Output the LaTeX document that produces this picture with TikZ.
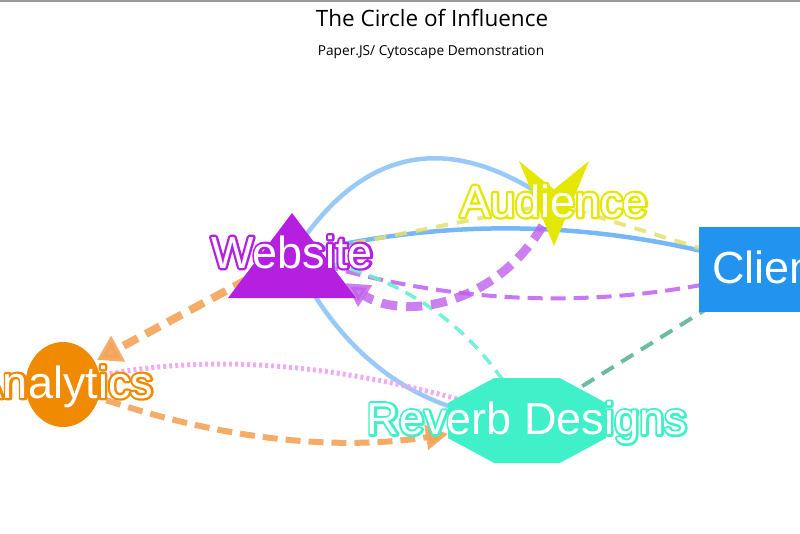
\documentclass[tikz,border=0pt]{standalone}
\usepackage{fontspec}
\setmainfont{Liberation Sans}
\newfontfamily\titlefont{Open Sans}
\usetikzlibrary{arrows.meta,calc,shapes.geometric}

\newcommand\outlinedtext[2]{\leavevmode\rlap{\special{pdf:literal direct 2 Tr 4.6 w 1 j}\textcolor{#1}{#2}\special{pdf:literal direct 0 Tr 1 w}}\textcolor{white}{#2}}

\definecolor{cWeb}{HTML}{B41FE0}
\definecolor{cAud}{HTML}{E4E800}
\definecolor{cCli}{HTML}{2393F0}
\definecolor{cAna}{HTML}{F08A00}
\definecolor{cRev}{HTML}{40F0C8}
\definecolor{eBlueL}{HTML}{8EC4F8}
\definecolor{eBlue}{HTML}{6AB0F4}
\definecolor{eYel}{HTML}{E2E270}
\definecolor{ePur}{HTML}{C060F0}
\definecolor{ePurT}{HTML}{C060EA}
\definecolor{eTeal}{HTML}{66F0D2}
\definecolor{eTealD}{HTML}{5EB49A}
\definecolor{eOra}{HTML}{F4A458}
\definecolor{ePink}{HTML}{F0A4F0}

\begin{document}
\begin{tikzpicture}[x=1pt,y=-1pt,
  lbl/.style={anchor=base, inner sep=0pt, font=\fontsize{45}{50}\selectfont, text=white},
  eSolid/.style={line width=4.5pt, opacity=0.9},
  eYelDash/.style={eYel, line width=4pt, dash pattern=on 12pt off 9pt, opacity=0.85},
  ePurDash/.style={ePur, line width=4pt, dash pattern=on 15pt off 8pt, opacity=0.85},
  ePurThick/.style={ePurT, line width=9pt, dash pattern=on 16pt off 9pt, opacity=0.8,
     -{Triangle[length=24pt,width=24pt]}},
  eTealDash/.style={eTeal, line width=3.5pt, dash pattern=on 12pt off 8pt, opacity=0.9},
  eTealDDash/.style={eTealD, line width=4pt, dash pattern=on 14pt off 9pt, opacity=0.9},
  eOraThick/.style={eOra, line width=8pt, dash pattern=on 16pt off 9pt, opacity=0.9,
     -{Triangle[length=24pt,width=28pt]}},
  eOraMid/.style={eOra, line width=6pt, dash pattern=on 15pt off 8pt, opacity=0.9,
     -{Triangle[length=22pt,width=24pt]}},
  ePinkDot/.style={ePink, line width=5pt, dash pattern=on 3pt off 3pt, opacity=0.9},
]
\path[use as bounding box] (0,0) rectangle (800,533);
\clip (0,0) rectangle (800,533);
\fill[white] (0,0) rectangle (800,533);
\fill[black!40] (0,0) rectangle (800,1.6);

% title
\node[anchor=base, inner sep=0pt, font=\titlefont\fontsize{22.5}{26}\selectfont] (title) at (432,26) {The Circle of Influence};
\node[anchor=base, inner sep=0pt, font=\titlefont\fontsize{13.7}{16}\selectfont] (subtitle) at (431,55) {Paper.JS/ Cytoscape Demonstration};

% node centres
\coordinate (web) at (292,255.5);
\coordinate (aud) at (554,203.5);
\coordinate (cli) at (770,269.5);
\coordinate (ana) at (63,384.5);
\coordinate (rev) at (527,420.5);

% control points / arrow tips
\coordinate (qWA) at (396,92);
\coordinate (qWR) at (370.5,414);
\coordinate (qWC) at (530,195);
\coordinate (qCW) at (531,333.5);
\coordinate (qWRt) at (455,280);
\coordinate (qAR) at (260,330);
\coordinate (webTip) at (345,283);
\coordinate (anaTip) at (97,360);
\coordinate (revTip) at (448,434);

% edges
\draw[eBlueL, eSolid] (web) .. controls ($(web)!0.667!(qWA)$) and ($(aud)!0.667!(qWA)$) .. (aud);
\draw[eBlueL, eSolid] (web) .. controls ($(web)!0.667!(qWR)$) and ($(rev)!0.667!(qWR)$) .. (rev);
\draw[eBlue, eSolid] (web) .. controls ($(web)!0.667!(qWC)$) and ($(cli)!0.667!(qWC)$) .. (cli);
\draw[eYelDash] (web) -- (aud);
\draw[eYelDash] (aud) -- (cli);
\draw[ePurDash] (cli) .. controls ($(cli)!0.667!(qCW)$) and ($(web)!0.667!(qCW)$) .. (web);
\draw[eTealDash] (web) .. controls ($(web)!0.667!(qWRt)$) and ($(rev)!0.667!(qWRt)$) .. (rev);
\draw[eTealDDash] (cli) -- (rev);
\draw[ePinkDot] (ana) .. controls ($(ana)!0.667!(qAR)$) and ($(rev)!0.667!(qAR)$) .. (rev);
\draw[ePurThick] (aud) .. controls (510,305) and (405,322) .. (webTip);
\draw[eOraThick] (web) -- (anaTip);
\draw[eOraMid] (ana) .. controls (196,436) and (324,453) .. (revTip);

% node shapes
\fill[cWeb, shift={(web)}] (0,-42.5) -- (64,42.5) -- (-64,42.5) -- cycle;
\fill[cAud, shift={(aud)}] (-35,-42.5) -- (0,-14.2) -- (35,-42.5) -- (0,42.5) -- cycle;
\node[rectangle, fill=cCli, minimum width=143pt, minimum height=85pt, inner sep=0pt] (cliBox) at (cli) {};
\node[ellipse, fill=cAna, minimum width=75pt, minimum height=85pt, inner sep=0pt] (anaBox) at (ana) {};
\fill[cRev, shift={(rev)}] (-32.7,-42.5) -- (32.7,-42.5) -- (79,-17.6) -- (79,17.6) -- (32.7,42.5) -- (-32.7,42.5) -- (-79,17.6) -- (-79,-17.6) -- cycle;

% labels
\node[lbl] (webL) at ($(web)+(0,12.5)$) {\outlinedtext{cWeb}{Website}};
\node[lbl] (audL) at ($(aud)+(0,13.5)$) {\outlinedtext{cAud}{Audience}};
\node[lbl] (cliL) at ($(cli)+(0,13.5)$) {\outlinedtext{cCli}{Client}};
\node[lbl] (anaL) at ($(ana)+(0,13.5)$) {\outlinedtext{cAna}{Analytics}};
\node[lbl] (revL) at ($(rev)+(0,14)$) {\outlinedtext{cRev}{Reverb Designs}};
\end{tikzpicture}
\end{document}
